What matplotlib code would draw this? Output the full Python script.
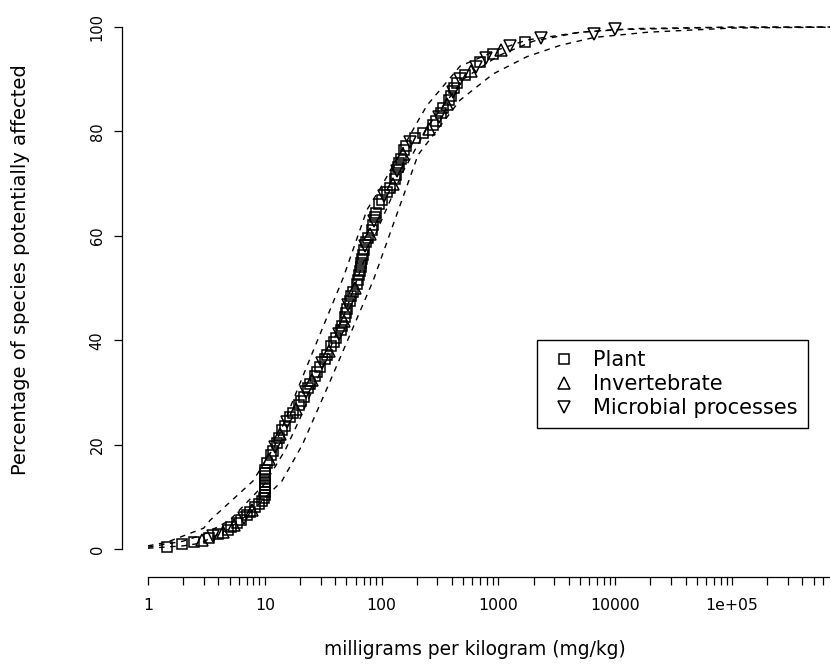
import matplotlib
matplotlib.use("Agg")
import matplotlib.pyplot as plt
import matplotlib.ticker as mticker

# ---------------- data ----------------
# pooled species sensitivity points: concentration (mg/kg), percentile (%)
plant_x = [1.45, 1.95, 2.5, 3.3, 4.0, 4.8, 5.1, 5.8, 6.2, 7.0, 7.4, 8.2, 9.0, 9.5, 9.8,
           10.0, 10.0, 10.0, 10.0, 10.0, 10.0, 10.0, 10.0, 10.0, 10.5,
           11.2, 11.8, 12.8, 13.2, 14.0, 14.8, 16.5, 17.5, 19.5, 20.5, 21.5, 23.5, 24.5,
           27.0, 28.0, 29.5, 32.5, 34.0, 37.0, 39.0, 41.0, 45.0, 46.0, 49.0, 50.0, 51.0,
           54.0, 55.0, 57.0, 61.0, 63.0, 64.0, 65.0, 66.0, 67.0, 68.0, 69.0, 70.0,
           74.0, 77.0, 82.0, 84.0, 88.0, 90.0, 95.0, 100.0, 112.0, 118.0, 130.0, 134.0,
           138.0, 142.0, 148.0, 156.0, 162.0, 195.0, 225.0, 275.0, 295.0, 320.0, 335.0,
           380.0, 390.0, 420.0, 440.0, 520.0, 700.0, 900.0, 1700.0]
plant_y = [0.4, 0.9, 1.3, 2.1, 2.9, 3.7, 4.2, 5.0, 5.5, 6.5, 7.0, 8.0, 8.6, 9.2, 9.8,
           10.4, 11.0, 11.6, 12.2, 12.8, 13.4, 14.0, 14.6, 15.2, 16.4,
           18.0, 18.8, 20.4, 21.2, 22.8, 23.6, 25.2, 26.0, 27.6, 28.4, 29.2, 30.8, 31.6,
           33.2, 34.0, 34.8, 36.4, 37.2, 38.8, 39.6, 40.4, 42.0, 42.8, 44.4, 45.2, 46.0,
           47.6, 48.4, 49.2, 50.8, 51.6, 52.4, 53.2, 54.0, 54.8, 55.6, 56.4, 57.2,
           58.8, 59.6, 61.2, 62.0, 63.6, 64.4, 66.0, 66.8, 68.4, 69.2, 70.8, 71.6,
           73.2, 74.0, 74.8, 76.4, 77.2, 78.8, 79.6, 81.2, 82.0, 83.6, 84.4,
           86.0, 86.8, 88.4, 89.2, 90.8, 93.2, 94.8, 97.2]

invert_x = [2.9, 4.4, 5.5, 7.8, 10.8, 13.6, 18.5, 25.5, 35.5, 47.5, 59.0, 80.0,
            125.0, 152.0, 255.0, 360.0, 580.0, 1050.0]
invert_y = [1.7, 3.3, 4.6, 7.5, 17.2, 22.0, 26.8, 32.4, 38.0, 43.6, 50.0, 60.4,
            70.0, 75.6, 80.4, 85.2, 91.6, 95.6]

micro_x = [3.6, 6.6, 12.3, 15.5, 22.5, 31.0, 43.0, 52.0, 72.0, 86.0, 105.0, 136.0,
           175.0, 310.0, 405.0, 470.0, 640.0, 780.0, 1250.0, 2300.0, 6600.0, 10000.0]
micro_y = [2.5, 6.0, 19.6, 24.4, 30.0, 35.6, 41.2, 46.8, 58.0, 62.8, 67.6, 72.4,
           78.0, 82.8, 87.6, 90.0, 92.4, 94.0, 96.4, 97.9, 98.7, 99.6]

# fitted curve and its confidence limits
fit_x = [1, 2, 3, 5, 10, 15, 20, 30, 50, 70, 100, 150, 250, 500, 1000, 2000,
         5000, 10000, 100000, 1000000]
fit_y = [0.35, 1.5, 2.8, 5.5, 12.5, 19, 25, 34, 46, 55, 63, 72, 81, 90, 94.5, 97.3,
         99.0, 99.5, 99.95, 100]

upper_x = [1, 1.45, 3, 3.4, 7.9, 12, 26, 47, 75, 97, 200, 245, 470, 1040, 1750,
           5000, 15000, 100000, 1000000]
upper_y = [0.6, 1.3, 4, 5.5, 13, 19.5, 38, 52, 65, 69, 81.6, 85, 92.5, 95.8, 97.5,
           99.0, 99.7, 99.98, 100]

lower_x = [1, 2, 2.8, 4.7, 7.5, 11, 14, 21, 36, 85, 205, 470, 900, 1750, 3400,
           6600, 19000, 100000, 1000000]
lower_y = [0.15, 0.6, 1.1, 3.6, 6.9, 10.7, 13, 20, 32, 51.5, 75.5, 86, 91, 94.3,
           96.5, 98, 99, 99.8, 100]

legend_labels = ["Plant", "Invertebrate", "Microbial processes"]
xtick_vals = [1, 10, 100, 1000, 10000, 100000]
xtick_labels = ["1", "10", "100", "1000", "10000", "1e+05"]
xminor_vals = [m * 10 ** k for k in range(0, 6) for m in range(2, 10)]
ytick_vals = [0, 20, 40, 60, 80, 100]

# ---------------- figure ----------------
W, H = 830, 664
fig = plt.figure(figsize=(W / 100, H / 100), dpi=100)
plt.rcParams['font.family'] = ['DejaVu Sans']

# axes rectangle in pixels: left 122, right 830, top 5, bottom 577
ax = fig.add_axes([122 / W, (H - 577) / H, (W - 122) / W, (577 - 5) / H])
ax.set_xscale('log')
ax.set_xlim(10 ** ((122 - 148) / 116.8), 10 ** ((830 - 148) / 116.8))
ax.set_ylim(-(577 - 549) / 5.22, 100 + (27 - 5) / 5.22)

dash = (0, (4, 4))
for cx, cy in [(fit_x, fit_y), (upper_x, upper_y), (lower_x, lower_y)]:
    ax.plot(cx, cy, color='black', lw=1.0, linestyle=dash, zorder=2)

h1, = ax.plot(plant_x, plant_y, linestyle='none', marker='s', ms=7.5, mfc='none',
              mec='black', mew=1.1, zorder=3)
h2, = ax.plot(invert_x, invert_y, linestyle='none', marker='^', ms=8.5, mfc='none',
              mec='black', mew=1.1, zorder=3)
h3, = ax.plot(micro_x, micro_y, linestyle='none', marker='v', ms=8.5, mfc='none',
              mec='black', mew=1.1, zorder=3)

# spines
for s in ['top', 'right']:
    ax.spines[s].set_visible(False)
ax.spines['left'].set_bounds(0, 100)
ax.spines['bottom'].set_bounds(1, ax.get_xlim()[1])
for s in ['left', 'bottom']:
    ax.spines[s].set_linewidth(0.9)

ax.xaxis.set_major_locator(mticker.FixedLocator(xtick_vals))
ax.xaxis.set_major_formatter(mticker.FixedFormatter(xtick_labels))
ax.xaxis.set_minor_locator(mticker.FixedLocator(xminor_vals))
ax.xaxis.set_minor_formatter(mticker.NullFormatter())
ax.tick_params(axis='x', which='major', direction='out', length=6, width=0.9,
               labelsize=11.3, pad=9)
ax.tick_params(axis='x', which='minor', direction='out', length=6, width=0.9)
ax.set_yticks(ytick_vals)
ax.tick_params(axis='y', direction='out', length=5.5, width=0.9, labelsize=10.5, pad=7)
for lab in ax.get_yticklabels():
    lab.set_rotation(90)
    lab.set_va('center')

ax.set_xlabel("milligrams per kilogram (mg/kg)", fontsize=13.4)
ax.set_ylabel("Percentage of species potentially affected", fontsize=14)
ax.xaxis.set_label_coords((475 - 122) / (W - 122), -(640 - 577) / (577 - 5))
ax.yaxis.set_label_coords(-(122 - 30) / (W - 122), (577 - 270) / (577 - 5))

leg = ax.legend([h1, h2, h3], legend_labels, loc='upper left',
                bbox_to_anchor=(537 / W, 1 - 340 / H), bbox_transform=fig.transFigure,
                fontsize=15, frameon=True, fancybox=False, shadow=False,
                borderpad=0.5, labelspacing=0.18, handlelength=1.6,
                handletextpad=0.6, borderaxespad=0)
leg.get_frame().set_edgecolor('black')
leg.get_frame().set_linewidth(1.0)
leg.get_frame().set_alpha(1)

fig.savefig("out.png", dpi=100)
